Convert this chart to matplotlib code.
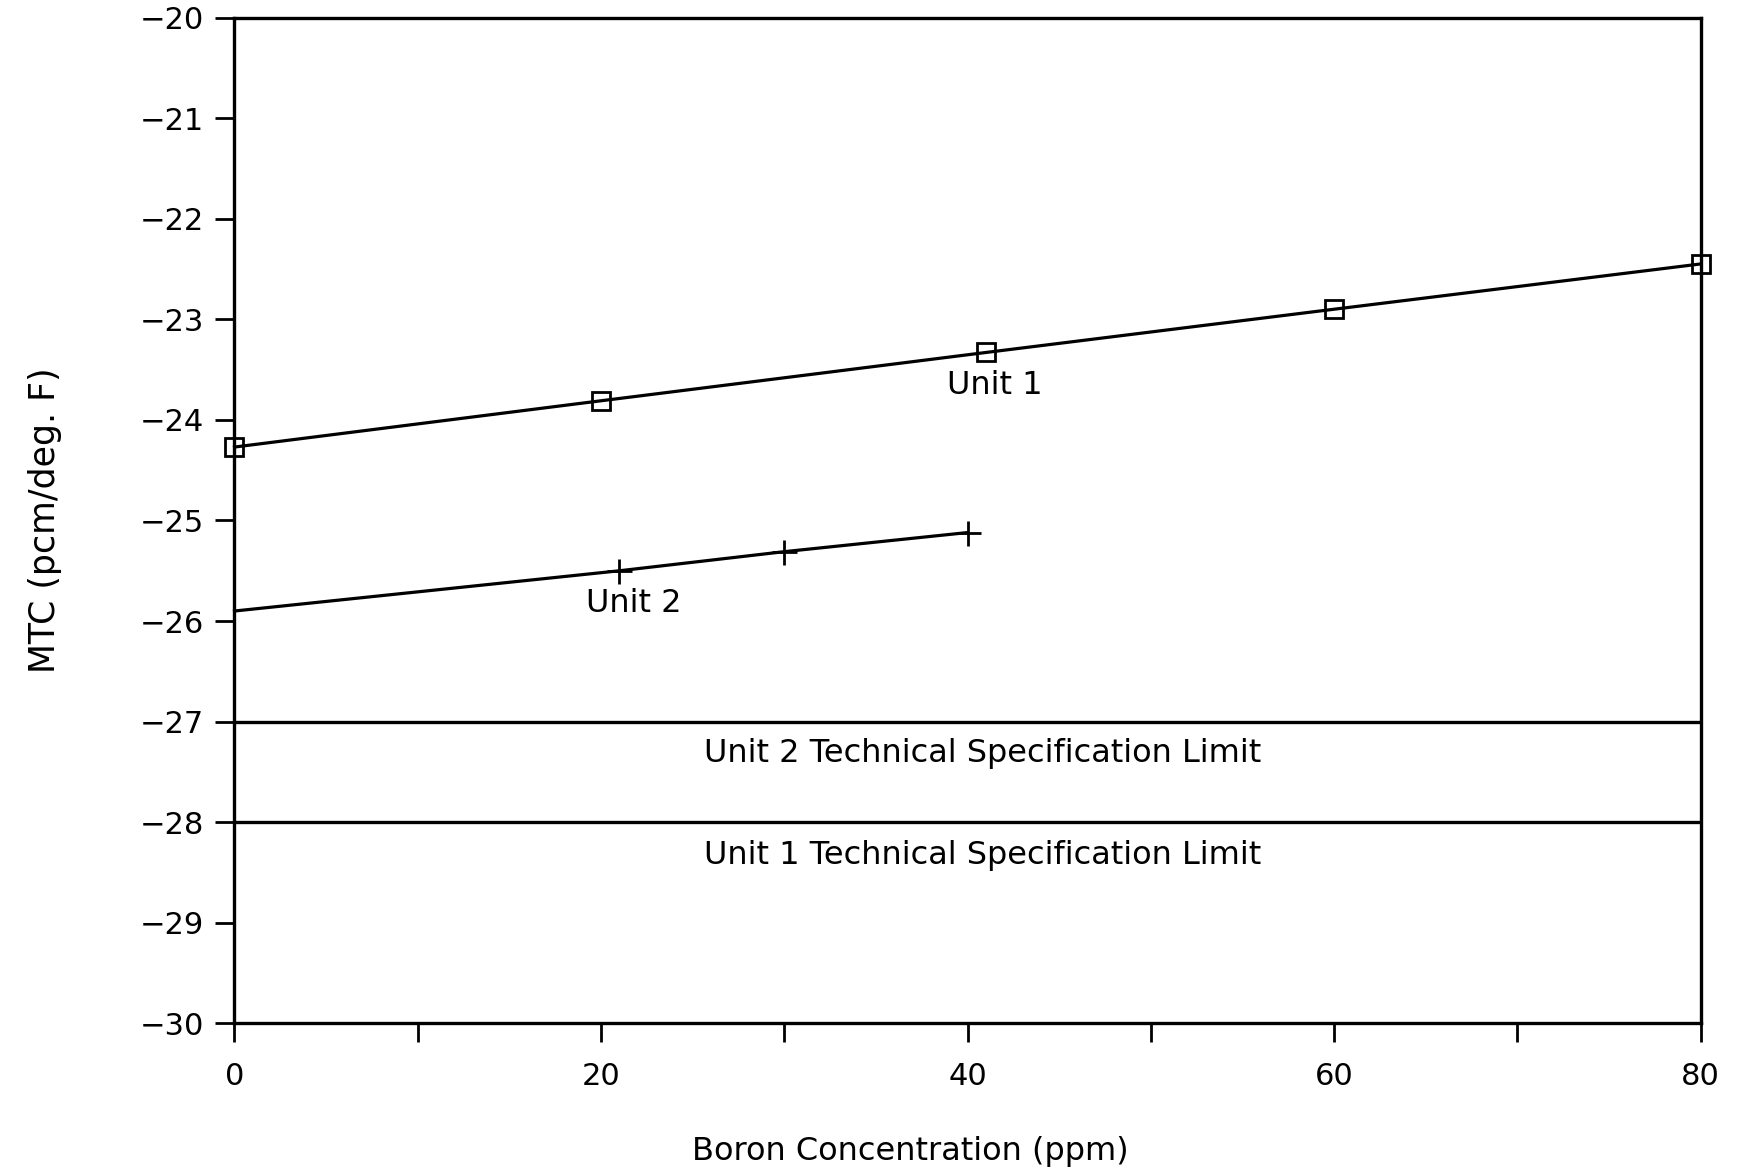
import matplotlib
matplotlib.use("Agg")
import matplotlib.pyplot as plt
import numpy as np

# Data
unit1_x = [0, 20, 41, 60, 80]
unit1_y = [-24.27, -23.81, -23.33, -22.90, -22.45]
unit2_x = [0, 21, 30, 40]
unit2_y = [-25.90, -25.50, -25.31, -25.12]
limit_unit2 = -27.0
limit_unit1 = -28.0
x_ticks = [0, 20, 40, 60, 80]
y_ticks = [-20, -21, -22, -23, -24, -25, -26, -27, -28, -29, -30]

plt.rcParams['font.family'] = ['DejaVu Sans']
fig = plt.figure(figsize=(17.37, 11.67), dpi=100)
ax = fig.add_axes([0.135, 0.123, 0.844, 0.862])

ax.plot(unit1_x, unit1_y, color='black', lw=2.3, marker='s', markersize=13,
        markerfacecolor='none', markeredgecolor='black', markeredgewidth=2, clip_on=False, zorder=3)
ax.plot(unit2_x, unit2_y, color='black', lw=2.3, marker='+', markersize=18,
        markeredgewidth=2, markevery=[1, 2, 3], clip_on=False, zorder=3)
ax.axhline(limit_unit2, color='black', lw=2.4)
ax.axhline(limit_unit1, color='black', lw=2.4)

fs = 23
ax.text(41.5, -23.66, "Unit 1", fontsize=fs, ha='center', va='center')
ax.text(21.8, -25.83, "Unit 2", fontsize=fs, ha='center', va='center')
ax.text(40.8, -27.32, "Unit 2 Technical Specification Limit", fontsize=fs, ha='center', va='center')
ax.text(40.8, -28.33, "Unit 1 Technical Specification Limit", fontsize=fs, ha='center', va='center')

ax.set_xlim(0, 80)
ax.set_ylim(-30, -20)
ax.set_xticks(np.arange(0, 81, 10))
ax.set_xticklabels([str(v) if v in x_ticks else '' for v in range(0, 81, 10)])
ax.set_yticks(y_ticks)
ax.set_yticklabels(['\u2212%d' % abs(v) for v in y_ticks])
ax.tick_params(axis='both', direction='out', length=14, width=2, labelsize=22, color='black')
ax.tick_params(axis='x', pad=14)
ax.tick_params(axis='y', pad=8)
for s in ax.spines.values():
    s.set_linewidth(2.4)
    s.set_color('black')

ax.set_xlabel("Boron Concentration (ppm)", fontsize=fs)
ax.xaxis.set_label_coords(0.461, -0.112)
ax.set_ylabel("MTC (pcm/deg. F)", fontsize=25, labelpad=56)

fig.savefig("out.png", dpi=100)
